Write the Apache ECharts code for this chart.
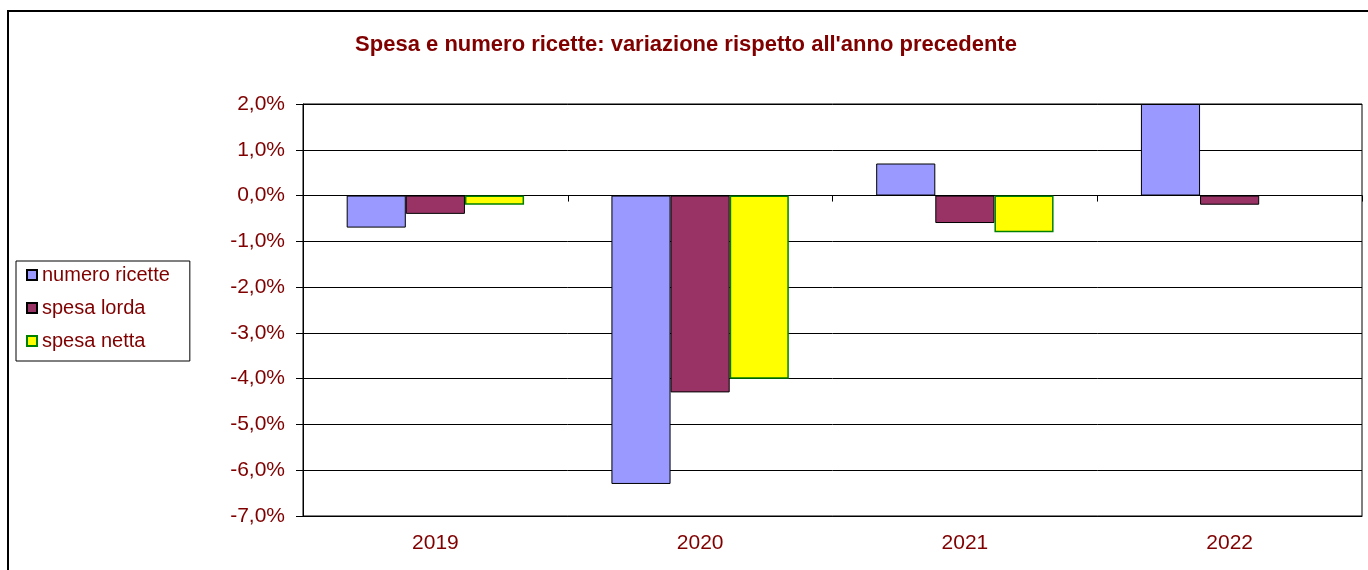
<!DOCTYPE html>
<html>
<head>
<meta charset="utf-8">
<script src="https://cdn.jsdelivr.net/npm/echarts@6/dist/echarts.min.js"></script>
<style>
  html, body { margin: 0; padding: 0; background: #fff; }
  #chart { width: 1368px; height: 570px; }
</style>
</head>
<body>
<div id="chart"></div>
<script>
// dati (variazione % sull'anno precedente)
const anni = ['2019', '2020', '2021', '2022']
const numeroRicette = [-0.7, -6.3, 0.7, 2.0]
const spesaLorda = [-0.4, -4.3, -0.6, -0.2]
const spesaNetta = [-0.2, -4.0, -0.8, null]

const rosso = '#800000'
const font = '"Liberation Sans", Arial, sans-serif'

const chart = echarts.init(document.getElementById('chart'))

const fmt = (v) => v.toFixed(1).replace('.', ',') + '%'

const option = {
  animation: false,
  backgroundColor: '#fff',
  textStyle: { fontFamily: font },
  title: {
    text: "Spesa e numero ricette: variazione rispetto all'anno precedente",
    left: 681,
    textAlign: 'center',
    top: 29,
    textStyle: { color: rosso, fontSize: 22, fontWeight: 'bold', fontFamily: font }
  },
  legend: {
    orient: 'vertical',
    left: 16,
    top: 261,
    padding: [4, 20, 10, 10],
    itemWidth: 10,
    itemHeight: 10,
    itemGap: 13,
    borderColor: '#000',
    borderWidth: 1,
    icon: 'rect',
    textStyle: { color: rosso, fontSize: 20, fontFamily: font },
    data: ['numero ricette', 'spesa lorda', 'spesa netta']
  },
  grid: {
    left: 303,
    right: 6,
    top: 104,
    bottom: 54,
    show: true,
    borderColor: '#000',
    borderWidth: 1
  },
  xAxis: [
    {
      type: 'category',
      data: anni,
      position: 'bottom',
      axisLine: { onZero: false, lineStyle: { color: '#000', width: 1 } },
      axisTick: { show: false },
      axisLabel: { color: rosso, fontSize: 21, margin: 17, fontFamily: font }
    },
    {
      type: 'category',
      data: anni,
      position: 'bottom',
      axisLine: { onZero: true, lineStyle: { color: '#000', width: 1 } },
      axisTick: { show: true, length: 6, lineStyle: { color: '#000' } },
      axisLabel: { show: false }
    }
  ],
  yAxis: {
    type: 'value',
    min: -7,
    max: 2,
    interval: 1,
    axisLine: { show: true, lineStyle: { color: '#000', width: 1 } },
    axisTick: { show: true, length: 7, lineStyle: { color: '#000' } },
    axisLabel: { color: rosso, fontSize: 21, margin: 18, formatter: fmt, fontFamily: font },
    splitLine: { show: true, lineStyle: { color: '#000', width: 1 } }
  },
  series: [
    {
      name: 'numero ricette',
      type: 'bar',
      data: numeroRicette,
      barGap: '0%',
      barCategoryGap: '33%',
      itemStyle: { color: '#9999FF', borderColor: '#000', borderWidth: 1 }
    },
    {
      name: 'spesa lorda',
      type: 'bar',
      data: spesaLorda,
      itemStyle: { color: '#993366', borderColor: '#000', borderWidth: 1 }
    },
    {
      name: 'spesa netta',
      type: 'bar',
      data: spesaNetta,
      itemStyle: { color: '#FFFF00', borderColor: '#008000', borderWidth: 1.5 }
    }
  ],
  graphic: [
    {
      type: 'rect',
      shape: { x: 8, y: 11, width: 1400, height: 600 },
      style: { fill: 'none', stroke: '#000', lineWidth: 2 },
      silent: true
    }
  ]
}

chart.setOption(option)

window.addEventListener('resize', () => {
  chart?.resize()
})
</script>
</body>
</html>
